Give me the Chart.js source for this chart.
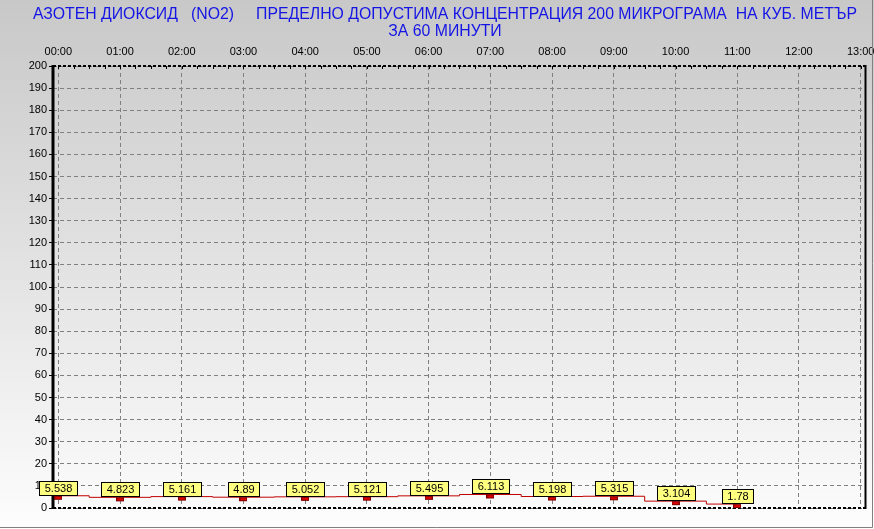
<!DOCTYPE html>
<html><head><meta charset="utf-8">
<script src="https://cdn.jsdelivr.net/npm/chart.js@4.4.0/dist/chart.umd.min.js"></script>
<style>html,body{margin:0;padding:0;background:#fff;overflow:hidden}#wrap{width:874px;height:529px;position:relative}</style>
</head><body><div id="wrap"><canvas id="c" width="874" height="529"></canvas></div>
<script>
const titleLines = ['АЗОТЕН ДИОКСИД   (NO2)     ПРЕДЕЛНО ДОПУСТИМА КОНЦЕНТРАЦИЯ 200 МИКРОГРАМА  НА КУБ. МЕТЪР', 'ЗА 60 МИНУТИ'];
const hourLabels = ['00:00','01:00','02:00','03:00','04:00','05:00','06:00','07:00','08:00','09:00','10:00','11:00','12:00','13:00'];
const hours = [0,1,2,3,4,5,6,7,8,9,10,11];
const no2Values = [5.538, 4.823, 5.161, 4.89, 5.052, 5.121, 5.495, 6.113, 5.198, 5.315, 3.104, 1.78];
const valueLabels = ['5.538','4.823','5.161','4.89','5.052','5.121','5.495','6.113','5.198','5.315','3.104','1.78'];
const yMin = 0, yMax = 200, yStep = 10;

const FONT = '"Liberation Sans", Arial, sans-serif';

// marker image: small red rectangle hanging below the point
const marker = document.createElement('canvas');
marker.width = 8; marker.height = 10;
(function(){const m = marker.getContext('2d');
 m.fillStyle = '#e00000'; m.fillRect(0,5,8,4);
 m.strokeStyle = '#7a0000'; m.lineWidth = 1; m.strokeRect(0.5,5.5,7,3);})();

const bgPlugin = {
  id: 'bg',
  beforeDraw(chart) {
    const ctx = chart.ctx, W = chart.width, H = chart.height;
    const g = ctx.createLinearGradient(0, 0, 0, H);
    g.addColorStop(0, '#c8c8c8');
    g.addColorStop(1, '#fdfdfd');
    ctx.save(); ctx.fillStyle = g; ctx.fillRect(0, 0, W, H);
    // title
    ctx.fillStyle = '#1414e6';
    ctx.font = '16px ' + FONT;
    ctx.textBaseline = 'middle';
    ctx.textAlign = 'center';
    const w1 = ctx.measureText(titleLines[0]).width;
    const sx = 824 / w1;
    const ys = [15, 32];
    titleLines.forEach((t, i) => {
      ctx.save(); ctx.translate(445, ys[i]); ctx.scale(sx, 1);
      ctx.fillText(t, 0, 0); ctx.restore();
    });
    ctx.restore();
  }
};

const framePlugin = {
  id: 'frame',
  beforeDatasetsDraw(chart) {
    const ctx = chart.ctx, a = chart.chartArea, xs = chart.scales.x;
    ctx.save();
    ctx.strokeStyle = '#000';
    // top dashed
    ctx.lineWidth = 2; ctx.setLineDash([3, 2]);
    ctx.beginPath(); ctx.moveTo(a.left, a.top); ctx.lineTo(a.right, a.top); ctx.stroke();
    ctx.beginPath(); ctx.moveTo(a.left, a.bottom); ctx.lineTo(a.right, a.bottom); ctx.stroke();
    ctx.setLineDash([]);
    // right solid
    ctx.beginPath(); ctx.moveTo(a.right, a.top - 1); ctx.lineTo(a.right, a.bottom + 1); ctx.stroke();
    // left thick
    ctx.lineWidth = 3;
    ctx.beginPath(); ctx.moveTo(a.left, a.top - 1); ctx.lineTo(a.left, a.bottom + 1); ctx.stroke();
    // minor ticks on top border (quarter hours)
    ctx.lineWidth = 1;
    for (let q = 0; q <= 52; q++) {
      const px = Math.round(xs.getPixelForValue(q / 4)) + 0.5;
      ctx.beginPath(); ctx.moveTo(px, a.top); ctx.lineTo(px, a.top + 3); ctx.stroke();
    }
    ctx.restore();
  },
  afterDraw(chart) {
    const ctx = chart.ctx, W = chart.width, H = chart.height;
    ctx.save();
    ctx.strokeStyle = '#808080'; ctx.lineWidth = 1;
    ctx.beginPath(); ctx.moveTo(W - 1.5, 0); ctx.lineTo(W - 1.5, H - 1.5); ctx.lineTo(0, H - 1.5); ctx.stroke();
    ctx.restore();
  }
};

const labelPlugin = {
  id: 'valLabels',
  afterDatasetsDraw(chart) {
    const ctx = chart.ctx;
    const meta = chart.getDatasetMeta(0);
    ctx.save();
    ctx.font = '11px ' + FONT;
    ctx.textAlign = 'center'; ctx.textBaseline = 'middle';
    meta.data.forEach((pt, i) => {
      const txt = valueLabels[i];
      const w = Math.round(ctx.measureText(txt).width) + 10;
      const h = 14;
      const x0 = Math.round(pt.x - w / 2) + 0.5;
      const y0 = Math.round(pt.y - 1 - h) + 0.5;
      ctx.fillStyle = '#ffff80';
      ctx.fillRect(x0, y0, w, h);
      ctx.strokeStyle = '#000'; ctx.lineWidth = 1;
      ctx.strokeRect(x0, y0, w, h);
      ctx.fillStyle = '#000';
      ctx.fillText(txt, x0 + w / 2, y0 + h / 2 + 0.5);
    });
    ctx.restore();
  }
};

new Chart(document.getElementById('c'), {
  type: 'line',
  data: {
    datasets: [{
      data: hours.map((h, i) => ({ x: h, y: no2Values[i] })),
      borderColor: '#c00000',
      borderWidth: 1,
      stepped: 'middle',
      pointStyle: marker,
      pointRadius: 4,
      pointHoverRadius: 4,
      fill: false
    }]
  },
  options: {
    responsive: false,
    animation: false,
    devicePixelRatio: 1,
    events: [],
    layout: { padding: { left: 0, top: 40, right: 8.5, bottom: 21 } },
    plugins: { legend: { display: false }, title: { display: false }, tooltip: { enabled: false } },
    scales: {
      x: {
        type: 'linear', position: 'top',
        min: -0.086, max: 13.078,
        afterFit(s) { s.height = 26; s.paddingLeft = 0; s.paddingRight = 0; },
        ticks: {
          stepSize: 1, includeBounds: false, autoSkip: false, maxRotation: 0,
          padding: 7, color: '#000', font: { family: FONT, size: 11 },
          callback: (v) => hourLabels[v] !== undefined ? hourLabels[v] : ''
        },
        grid: { color: '#808080', drawTicks: false, lineWidth: 1 },
        border: { display: false, dash: [4, 3] }
      },
      y: {
        min: yMin, max: yMax,
        afterFit(s) { s.width = 53; s.paddingTop = 0; s.paddingBottom = 0; },
        ticks: { stepSize: yStep, padding: 2, color: '#000', font: { family: FONT, size: 11 } },
        grid: { color: '#808080', drawTicks: true, tickLength: 4, tickColor: '#000', tickBorderDash: [0, 0], lineWidth: 1 },
        border: { display: false, dash: [4, 3] }
      }
    }
  },
  plugins: [bgPlugin, framePlugin, labelPlugin]
});
</script></body></html>
